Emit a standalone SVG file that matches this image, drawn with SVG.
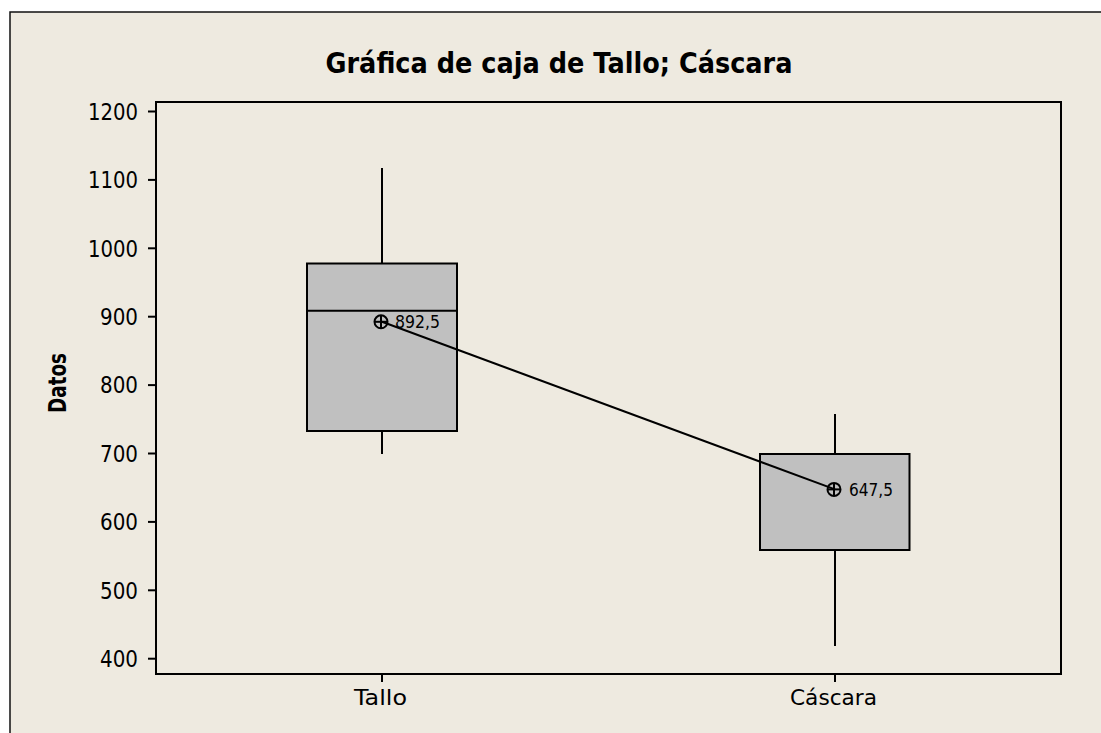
<svg xmlns="http://www.w3.org/2000/svg" width="1101" height="733" viewBox="0 0 1101 733">
<style>
.t{font-family:"DejaVu Sans","Liberation Sans",sans-serif;fill:#000}
.tick{font-size:23px;text-anchor:end}
.ax{stroke:#000;stroke-width:2;fill:none}
.box{fill:#c0c0c0;stroke:#000;stroke-width:2}
.ln{stroke:#000;stroke-width:2;fill:none}
.lab{font-size:18px}
</style>
<rect x="0" y="0" width="1101" height="733" fill="#ffffff"/>
<rect x="10" y="12" width="1100" height="730" fill="#eeeae0" stroke="#111" stroke-width="1.5"/>
<text class="t" x="559" y="73" font-size="29" font-weight="bold" text-anchor="middle" textLength="467" lengthAdjust="spacingAndGlyphs">Gráfica de caja de Tallo; Cáscara</text>
<g id="plot">
<rect x="156" y="102" width="905" height="572" fill="#fff" class="ax"/>
<g class="ax">
<line x1="148" y1="111.5" x2="156" y2="111.5"/>
<line x1="148" y1="179.9" x2="156" y2="179.9"/>
<line x1="148" y1="248.3" x2="156" y2="248.3"/>
<line x1="148" y1="316.7" x2="156" y2="316.7"/>
<line x1="148" y1="385.1" x2="156" y2="385.1"/>
<line x1="148" y1="453.5" x2="156" y2="453.5"/>
<line x1="148" y1="521.9" x2="156" y2="521.9"/>
<line x1="148" y1="590.3" x2="156" y2="590.3"/>
<line x1="148" y1="658.7" x2="156" y2="658.7"/>
<line x1="382" y1="674" x2="382" y2="682"/>
<line x1="835" y1="674" x2="835" y2="682"/>
</g>
<g class="t tick">
<text x="138" y="120" textLength="50" lengthAdjust="spacingAndGlyphs">1200</text>
<text x="138" y="188" textLength="50" lengthAdjust="spacingAndGlyphs">1100</text>
<text x="138" y="257" textLength="50" lengthAdjust="spacingAndGlyphs">1000</text>
<text x="138" y="325" textLength="38" lengthAdjust="spacingAndGlyphs">900</text>
<text x="138" y="393" textLength="38" lengthAdjust="spacingAndGlyphs">800</text>
<text x="138" y="462" textLength="38" lengthAdjust="spacingAndGlyphs">700</text>
<text x="138" y="530" textLength="38" lengthAdjust="spacingAndGlyphs">600</text>
<text x="138" y="599" textLength="38" lengthAdjust="spacingAndGlyphs">500</text>
<text x="138" y="667" textLength="38" lengthAdjust="spacingAndGlyphs">400</text>
</g>
<text class="t" x="380.5" y="705" font-size="22" text-anchor="middle" textLength="53" lengthAdjust="spacingAndGlyphs">Tallo</text>
<text class="t" x="833.5" y="705" font-size="22" text-anchor="middle" textLength="87" lengthAdjust="spacingAndGlyphs">Cáscara</text>
<text class="t" transform="translate(66,383) rotate(-90)" font-size="25" font-weight="bold" text-anchor="middle" textLength="60" lengthAdjust="spacingAndGlyphs">Datos</text>
</g>
<g id="tallo">
<line class="ln" x1="382" y1="168" x2="382" y2="263"/>
<line class="ln" x1="382" y1="431" x2="382" y2="454"/>
<rect class="box" x="307" y="263.5" width="150" height="167.5"/>
<line class="ln" x1="307" y1="310.7" x2="457" y2="310.7"/>
</g>
<g id="cascara">
<line class="ln" x1="835" y1="414" x2="835" y2="454"/>
<line class="ln" x1="835" y1="550" x2="835" y2="646"/>
<rect class="box" x="760" y="454" width="149.5" height="96"/>
</g>
<g id="connectors">
<line class="ln" x1="382" y1="321.8" x2="835" y2="489.4"/>
</g>
<g id="mean-tallo">
<circle cx="381" cy="321.8" r="6.5" fill="none" stroke="#000" stroke-width="2"/>
<line class="ln" x1="374.5" y1="321.8" x2="387.5" y2="321.8"/>
<line class="ln" x1="381" y1="315.3" x2="381" y2="328.3"/>
<text class="t lab" x="395" y="328" textLength="45" lengthAdjust="spacingAndGlyphs">892,5</text>
</g>
<g id="mean-cascara">
<circle cx="834" cy="489.4" r="6.5" fill="none" stroke="#000" stroke-width="2"/>
<line class="ln" x1="827.5" y1="489.4" x2="840.5" y2="489.4"/>
<line class="ln" x1="834" y1="482.9" x2="834" y2="495.9"/>
<text class="t lab" x="849" y="496" textLength="44" lengthAdjust="spacingAndGlyphs">647,5</text>
</g>
</svg>
